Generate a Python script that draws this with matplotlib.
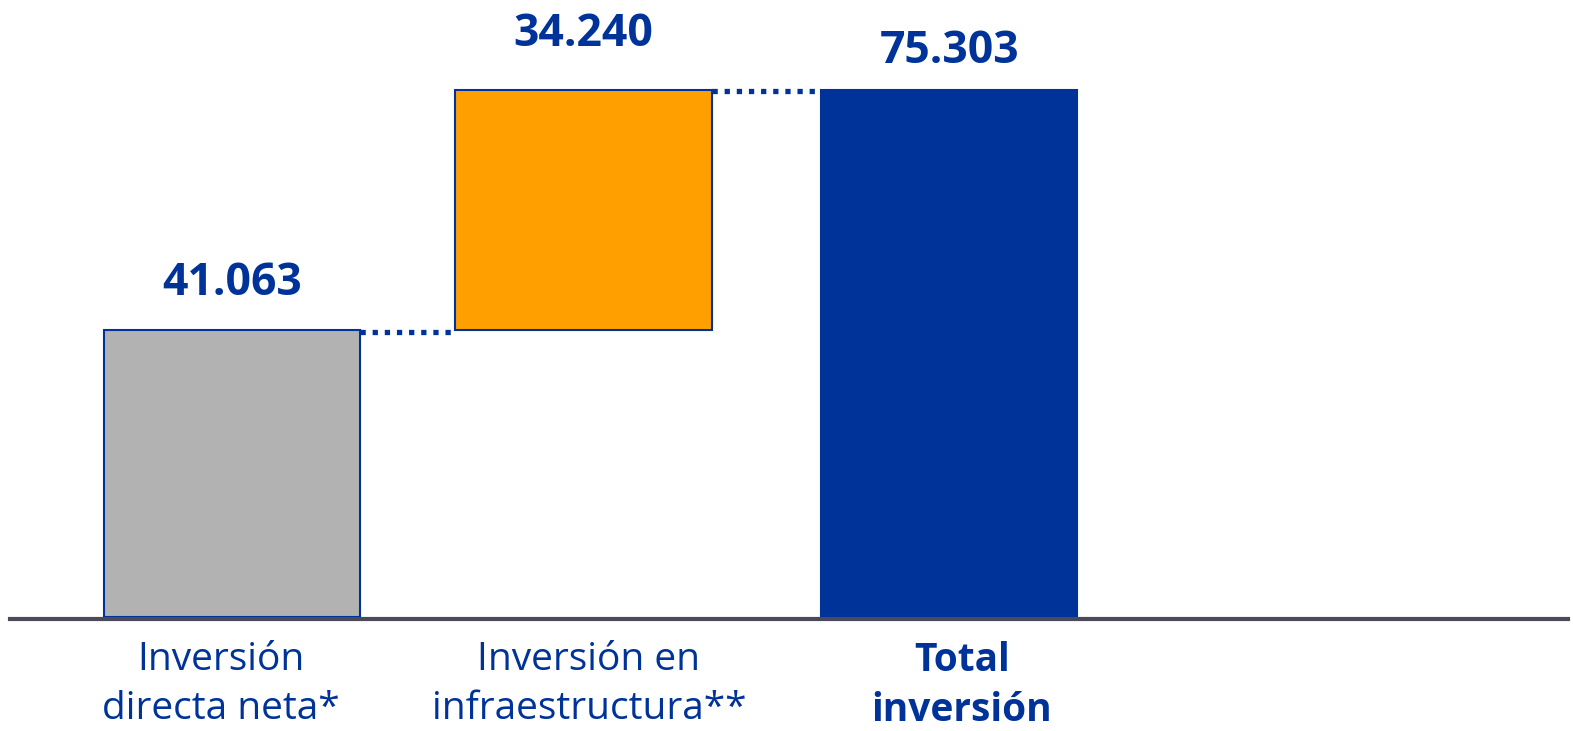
import matplotlib
matplotlib.use("Agg")
import matplotlib.pyplot as plt

plt.rcParams["font.family"] = ["Open Sans", "DejaVu Sans"]

# data
categories = ["Inversión\ndirecta neta*", "Inversión en\ninfraestructura**", "Total\ninversión"]
values = [41063, 34240, 75303]
value_labels = ["41.063", "34.240", "75.303"]

# layout / style
x_pos = [0, 0.98, 2.0]
bar_width = 0.714
face_colors = ["#b2b2b2", "#ffa000", "#003399"]
label_offsets = [35, 42, 30]        # points above bar top
cat_shift = [-6, 6, 11]             # points, horizontal nudge of category labels
conn_drop = [2, 0.5]                # points, connector below bar top
BLUE = "#003399"

bottoms = [0, values[0], 0]
heights = [values[0], values[1], values[2]]

fig = plt.figure(figsize=(15.73, 7.31), dpi=100)
ax = fig.add_axes([10 / 1573, 114 / 731, 1558 / 1573, 617 / 731])
ax.set_xlim(-219 / 358.75, (1568 - 229) / 358.75)
ax.set_ylim(0, values[2] * 617 / 527)
ax.axis("off")

ax.bar([x + 0.008 for x in x_pos], heights, bottom=bottoms, width=bar_width,
       color=face_colors, edgecolor=BLUE, linewidth=1.5, zorder=3)

# dotted connectors
per_pt = ax.get_ylim()[1] / (617 * 0.72)
conn = [(0, 1, values[0]), (1, 2, values[0] + values[1])]
for (a, b, y), d in zip(conn, conn_drop):
    yy = y - d * per_pt
    ax.plot([x_pos[a] + 0.008 + bar_width / 2, x_pos[b] + 0.008 - bar_width / 2],
            [yy, yy], color=BLUE, linewidth=3.8, linestyle=(0, (1, 1.3)),
            dash_capstyle="butt", zorder=2)

# baseline
ax.axhline(-330, color="#4b4a5a", linewidth=3, zorder=1, clip_on=False)

for x, b, h, lab, off in zip(x_pos, bottoms, heights, value_labels, label_offsets):
    ax.annotate(lab, (x + 0.008, b + h), xytext=(0, off - 2), textcoords="offset points",
                ha="center", va="center", fontsize=32, fontweight="bold", color=BLUE)

for i, (x, cat, dx) in enumerate(zip(x_pos, categories, cat_shift)):
    ax.annotate(cat, (x, 0), xytext=(dx, -17), textcoords="offset points",
                ha="center", va="top", fontsize=28, color=BLUE, linespacing=1.38,
                fontweight="bold" if i == 2 else "normal", annotation_clip=False)

fig.savefig("out.png", dpi=100)
